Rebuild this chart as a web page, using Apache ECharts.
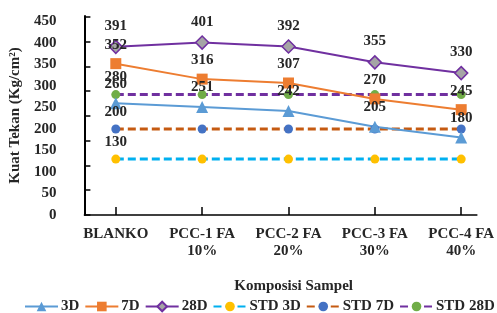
<!DOCTYPE html>
<html>
<head>
<meta charset="utf-8">
<script src="https://cdn.jsdelivr.net/npm/echarts@6/dist/echarts.min.js"></script>
<style>
* { margin: 0; padding: 0; }
body { background: #fff; }
</style>
</head>
<body>
<!-- container for the chart -->
<div id="main" style="width: 497px;height: 313px;"></div>
<script>
var categories = ["BLANKO", "PCC-1 FA\n10%", "PCC-2 FA\n20%", "PCC-3 FA\n30%", "PCC-4 FA\n40%"];
var d3 = [260, 251, 242, 205, 180];
var d7 = [352, 316, 307, 270, 245];
var d28 = [391, 401, 392, 355, 330];
var std3 = [130, 130, 130, 130, 130];
var std7 = [200, 200, 200, 200, 200];
var std28 = [280, 280, 280, 280, 280];
var yLabels = [0, 50, 100, 150, 200, 250, 300, 350, 400, 450];

var font = "Liberation Serif";
var txt = "#262626";

function pairs(arr) {
  return arr.map(function (v, i) { return [i, v]; });
}
// STD lines only carry a label on the first point
function stdPairs(arr) {
  return arr.map(function (v, i) {
    return { value: [i, v], label: { show: i === 0 } };
  });
}

var labelStyle = {
  show: true,
  position: "top",
  fontFamily: font,
  fontWeight: "bold",
  fontSize: 15,
  color: txt,
  formatter: function (p) { return p.value[1]; }
};

var chart = echarts.init(document.getElementById("main"));
chart.setOption({
  animation: false,
  grid: { left: 80, right: 17, top: 16, bottom: 98, containLabel: false },
  legend: {
    left: 24,
    top: 299,
    width: 600,
    padding: 0,
    itemWidth: 33,
    itemHeight: 12,
    itemGap: 5,
    textStyle: { fontFamily: font, fontWeight: "bold", fontSize: 15, color: txt, padding: [0, 0, 0, -2] },
    data: ["3D", "7D", "28D", "STD 3D", "STD 7D", "STD 28D"]
  },
  xAxis: {
    type: "value",
    min: -32 / 88,
    max: 4 + 16 / 88,
    name: "Komposisi Sampel",
    nameLocation: "middle",
    nameGap: 64,
    nameTextStyle: { fontFamily: font, fontWeight: "bold", fontSize: 15, color: txt, padding: [0, 0, 0, 26] },
    splitLine: { show: false },
    axisLine: { lineStyle: { color: "#000", width: 1.5 } },
    axisTick: { inside: true, length: 8, customValues: [0, 1, 2, 3, 4], lineStyle: { color: "#000", width: 1.5 } },
    axisLabel: {
      customValues: [0, 1, 2, 3, 4],
      margin: 11,
      lineHeight: 17,
      fontFamily: font,
      fontWeight: "bold",
      fontSize: 15,
      color: txt,
      formatter: function (v) { return categories[Math.round(v)]; }
    }
  },
  yAxis: {
    type: "value",
    min: 0,
    max: 462.8,
    name: "Kuat Tekan (Kg/cm²)",
    nameLocation: "middle",
    nameGap: 51,
    nameTextStyle: { fontFamily: font, fontWeight: "bold", fontSize: 15, color: txt },
    splitLine: { show: false },
    axisLine: { show: true, onZero: false, lineStyle: { color: "#000", width: 2 } },
    axisTick: {
      show: true,
      inside: true,
      length: 6,
      customValues: [0, 57.6, 115.2, 172.8, 230.4, 288, 345.6, 403.2, 460.8],
      lineStyle: { color: "#000", width: 1.5 }
    },
    axisLabel: {
      customValues: yLabels,
      margin: 28,
      fontFamily: font,
      fontWeight: "bold",
      fontSize: 15,
      color: txt
    }
  },
  series: [
    {
      name: "STD 3D", type: "line", data: stdPairs(std3),
      symbol: "circle", symbolSize: 9,
      lineStyle: { color: "#00B0F0", width: 3, type: [8, 4] },
      itemStyle: { color: "#FFC000" },
      label: Object.assign({}, labelStyle, { distance: 5 })
    },
    {
      name: "STD 7D", type: "line", data: stdPairs(std7),
      symbol: "circle", symbolSize: 9,
      lineStyle: { color: "#C55A11", width: 3, type: [8, 4] },
      itemStyle: { color: "#4472C4" },
      label: Object.assign({}, labelStyle, { distance: 5 })
    },
    {
      name: "STD 28D", type: "line", data: stdPairs(std28),
      symbol: "circle", symbolSize: 9,
      lineStyle: { color: "#7030A0", width: 3, type: [8, 4] },
      itemStyle: { color: "#70AD47" },
      label: Object.assign({}, labelStyle, { distance: 5 })
    },
    {
      name: "3D", type: "line", data: pairs(d3),
      symbol: "triangle", symbolSize: 12,
      lineStyle: { color: "#5B9BD5", width: 2 },
      itemStyle: { color: "#5B9BD5" },
      label: Object.assign({}, labelStyle, { distance: 6 })
    },
    {
      name: "7D", type: "line", data: pairs(d7),
      symbol: "rect", symbolSize: 11,
      lineStyle: { color: "#ED7D31", width: 2 },
      itemStyle: { color: "#ED7D31" },
      label: Object.assign({}, labelStyle, { distance: 6 })
    },
    {
      name: "28D", type: "line", data: pairs(d28),
      symbol: "diamond", symbolSize: 13,
      lineStyle: { color: "#7030A0", width: 2 },
      itemStyle: { color: "#A5A5A5", borderColor: "#7030A0", borderWidth: 1.5 },
      label: Object.assign({}, labelStyle, { distance: 6 })
    }
  ]
});
</script>
</body>
</html>
